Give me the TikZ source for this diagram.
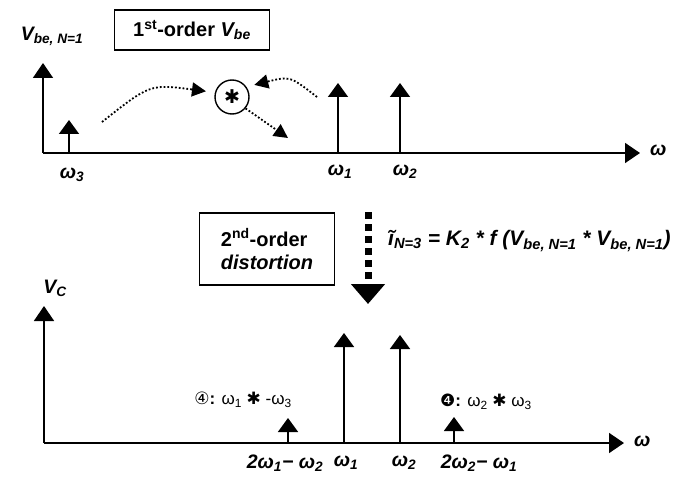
\documentclass[tikz,border=0pt]{standalone}
\usepackage{fontspec}
\setmainfont{Liberation Sans}
\newfontfamily\dejavu{DejaVu Sans}
\usetikzlibrary{arrows.meta,positioning}
\tikzset{
  axis/.style={line width=1.6pt,-{Triangle[width=20pt,length=15pt]}},
  spike/.style={line width=1.6pt,-{Triangle[width=20pt,length=14pt]}},
  dotarr/.style={line width=1.8pt,dotted,-{Triangle[width=14pt,length=14pt]}},
  bigarr/.style={line width=7pt,dash pattern=on 7pt off 5pt,-{Triangle[width=33pt,length=20pt]}},
  boxnode/.style={draw,line width=1.4pt,align=center,font=\fontsize{20}{23}\selectfont\bfseries},
  lbl/.style={font=\fontsize{19.5}{22}\selectfont\bfseries\itshape,inner sep=0pt},
  mixlbl/.style={font=\fontsize{17}{19}\selectfont,inner sep=0pt},
  starnode/.style={circle,draw,line width=1.4pt,minimum size=34pt,inner sep=0pt,font=\dejavu\fontsize{19}{19}\selectfont}
}

\begin{document}
\begin{tikzpicture}[x=1pt,y=-1pt]
  \useasboundingbox (0,0) rectangle (690,481);

  % top spectrum
  \coordinate (o1) at (43,153);
  \coordinate (y1) at (43,63);
  \coordinate (x1) at (640,153);
  \draw[axis] (o1) -- (y1);
  \draw[axis] (o1) -- (x1);
  \node[lbl] (vbe) at (52,36) {V\textsubscript{be, N=1}};
  \node[lbl, anchor=west] (w1) at (650,150) {ω};
  \node[boxnode, minimum width=155pt, minimum height=40pt] (first) at (192,30) {1\textsuperscript{st}-order \textit{V\textsubscript{be}}};

  \foreach \nm/\x/\h in {c/69/120, a/338/83, b/400/83} {
    \coordinate (tb\nm) at (\x,153);
    \coordinate (tt\nm) at (\x,\h);
    \draw[spike] (tb\nm) -- (tt\nm);
  }
  \node[lbl] (lc) at (72,175) {ω\textsubscript{3}};
  \node[lbl] (la) at (340,172) {ω\textsubscript{1}};
  \node[lbl] (lb) at (405,172) {ω\textsubscript{2}};

  \node[starnode] (star) at (232,97) {✱};
  \coordinate (d1) at (102,122);
  \coordinate (d2) at (317,97);
  \coordinate (d3) at (288,138);
  \draw[dotarr, shorten >=9pt] (d1) .. controls (150,84) .. (star.165);
  \draw[dotarr, shorten >=8pt] (d2) .. controls (290,76) .. (star.35);
  \draw[dotarr] (star.-40) -- (d3);

  % mixing step
  \node[boxnode, minimum width=135pt, minimum height=72pt, align=left] (second) at (267,249) {2\textsuperscript{nd}-order\\\textit{distortion}};
  \coordinate (m1) at (368,212);
  \coordinate (m2) at (368,304);
  \draw[bigarr] (m1) -- (m2);
  \node[lbl, anchor=west, font=\fontsize{21}{24}\selectfont\bfseries\itshape] (eqn) at (388,241) {ĩ\textsubscript{N=3} = K\textsubscript{2} * f (V\textsubscript{be, N=1} * V\textsubscript{be, N=1})};

  % bottom spectrum
  \coordinate (o2) at (44,443);
  \coordinate (y2) at (44,306);
  \coordinate (x2) at (624,443);
  \draw[axis] (o2) -- (y2);
  \draw[axis] (o2) -- (x2);
  \node[lbl] (vc) at (55,288) {V\textsubscript{C}};
  \node[lbl, anchor=west] (w2) at (634,441) {ω};

  \foreach \nm/\x/\h in {p/288/418, q/344/333, r/400/335, s/454/417} {
    \coordinate (bb\nm) at (\x,443);
    \coordinate (bt\nm) at (\x,\h);
    \draw[spike] (bb\nm) -- (bt\nm);
  }
  \node[lbl] (lp) at (285,463) {2ω\textsubscript{1}− ω\textsubscript{2}};
  \node[lbl] (lq) at (346,463) {ω\textsubscript{1}};
  \node[lbl] (lr) at (404,463) {ω\textsubscript{2}};
  \node[lbl] (ls) at (479,463) {2ω\textsubscript{2}− ω\textsubscript{1}};

  \node[mixlbl] (mixa) at (243,400) {{\dejavu ④}\textbf{:} ω\textsubscript{1} {\dejavu ✱} -ω\textsubscript{3}};
  \node[mixlbl] (mixb) at (486,402) {{\dejavu ❹}\textbf{:} ω\textsubscript{2} {\dejavu ✱} ω\textsubscript{3}};
\end{tikzpicture}
\end{document}
